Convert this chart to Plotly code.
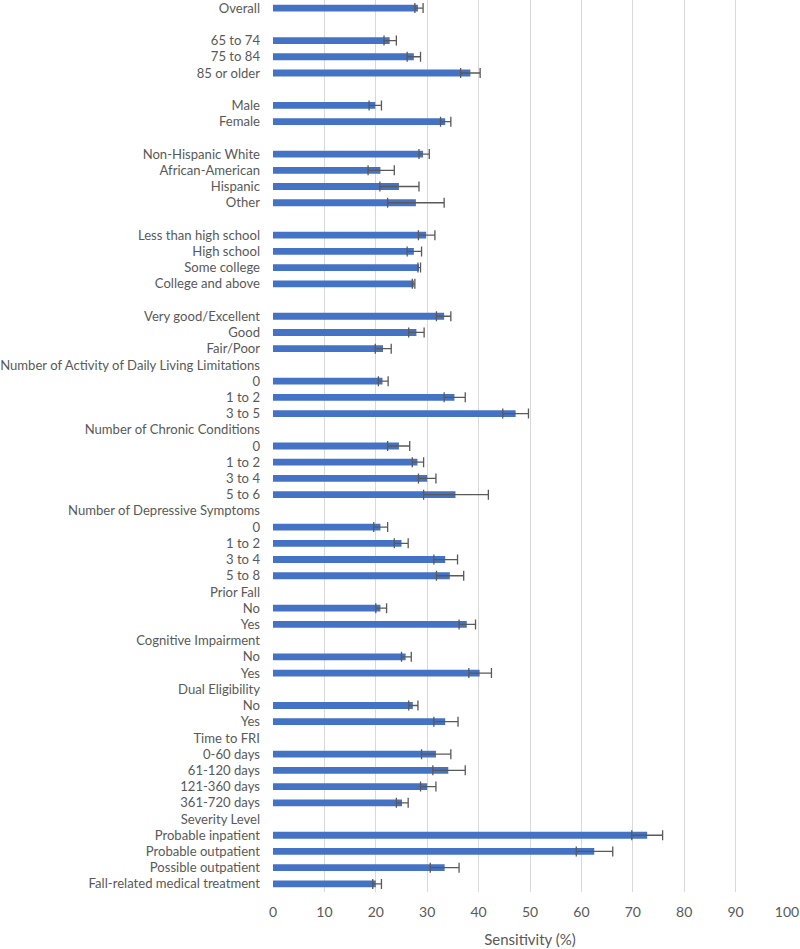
import plotly.graph_objects as go

labels = [
    "Overall", "",
    "65 to 74", "75 to 84", "85 or older", "",
    "Male", "Female", "",
    "Non-Hispanic White", "African-American", "Hispanic", "Other", "",
    "Less than high school", "High school", "Some college", "College and above", "",
    "Very good/Excellent", "Good", "Fair/Poor",
    "Number of Activity of Daily Living Limitations", "0", "1 to 2", "3 to 5",
    "Number of Chronic Conditions", "0", "1 to 2", "3 to 4", "5 to 6",
    "Number of Depressive Symptoms", "0", "1 to 2", "3 to 4", "5 to 8",
    "Prior Fall", "No", "Yes",
    "Cognitive Impairment", "No", "Yes",
    "Dual Eligibility", "No", "Yes",
    "Time to FRI", "0-60 days", "61-120 days", "121-360 days", "361-720 days",
    "Severity Level", "Probable inpatient", "Probable outpatient", "Possible outpatient",
    "Fall-related medical treatment",
]

N = None
sensitivity = [
    28.2, N,
    22.7, 27.4, 38.4, N,
    19.9, 33.5, N,
    29.2, 20.9, 24.5, 27.8, N,
    29.8, 27.4, 28.4, 27.4, N,
    33.3, 27.9, 21.4,
    N, 21.3, 35.3, 47.2,
    N, 24.5, 28.1, 30.0, 35.5,
    N, 20.9, 25.0, 33.5, 34.4,
    N, 20.9, 37.7,
    N, 25.8, 40.2,
    N, 27.2, 33.5,
    N, 31.7, 34.1, 30.0, 25.1,
    N, 72.8, 62.5, 33.4, 20.0,
]
ci_low = [
    27.6, N,
    21.6, 26.1, 36.5, N,
    18.7, 32.6, N,
    28.4, 18.5, 20.8, 22.3, N,
    28.3, 26.1, 28.2, 27.1, N,
    31.8, 26.4, 19.9,
    N, 20.5, 33.3, 44.7,
    N, 22.3, 27.1, 28.3, 29.3,
    N, 19.6, 23.6, 31.3, 31.8,
    N, 20.0, 36.2,
    N, 25.0, 38.1,
    N, 26.4, 31.3,
    N, 28.9, 31.1, 28.7, 24.0,
    N, 69.8, 59.0, 30.6, 19.4,
]
ci_high = [
    29.2, N,
    24.0, 28.7, 40.3, N,
    21.1, 34.6, N,
    30.4, 23.6, 28.4, 33.3, N,
    31.5, 28.9, 28.7, 27.6, N,
    34.6, 29.4, 23.0,
    N, 22.4, 37.4, 49.7,
    N, 26.6, 29.3, 31.7, 41.9,
    N, 22.3, 26.3, 35.9, 37.1,
    N, 22.1, 39.4,
    N, 26.9, 42.5,
    N, 28.2, 36.0,
    N, 34.6, 37.4, 31.7, 26.3,
    N, 75.8, 66.1, 36.2, 21.1,
]
x_ticks = [0, 10, 20, 30, 40, 50, 60, 70, 80, 90, 100]

rows = list(range(len(labels)))
err_plus = [(h - v) if v is not None else None for v, h in zip(sensitivity, ci_high)]
err_minus = [(v - l) if v is not None else None for v, l in zip(sensitivity, ci_low)]

fig = go.Figure()
fig.add_trace(go.Bar(
    x=sensitivity, y=rows, orientation="h",
    marker=dict(color="#4472C4", line=dict(width=0)),
    width=0.42,
    error_x=dict(type="data", symmetric=False, array=err_plus, arrayminus=err_minus,
                 color="#595959", thickness=1.3, width=5),
    showlegend=False, hoverinfo="x+y",
))

fig.update_layout(
    width=800, height=949,
    margin=dict(l=273, r=13, t=0, b=57),
    paper_bgcolor="white", plot_bgcolor="white",
    font=dict(family="Lato, 'Open Sans', sans-serif", color="#595959", size=12),
    xaxis=dict(
        range=[0, 100], tickvals=x_ticks, ticktext=[str(t) for t in x_ticks],
        showgrid=True, gridcolor="#D9D9D9", gridwidth=1,
        zeroline=False, showline=False, ticks="",
        tickfont=dict(size=14),
        ticklabelstandoff=10,
        ticklabeloverflow="allow",
        title=dict(text="Sensitivity (%)", font=dict(size=15), standoff=15),
        fixedrange=True, automargin=False,
    ),
    yaxis=dict(
        tickvals=rows, ticktext=labels,
        range=[len(labels) - 0.5, -0.5],
        showgrid=False, zeroline=False, showline=False, ticks="",
        ticklabelstandoff=12,
        ticklabeloverflow="allow",
        tickfont=dict(size=13.1),
        automargin=False, fixedrange=True,
    ),
    bargap=0.5,
)

fig.write_html("out.html", config={"displayModeBar": False},
               post_script="document.body.style.margin='0px';")
